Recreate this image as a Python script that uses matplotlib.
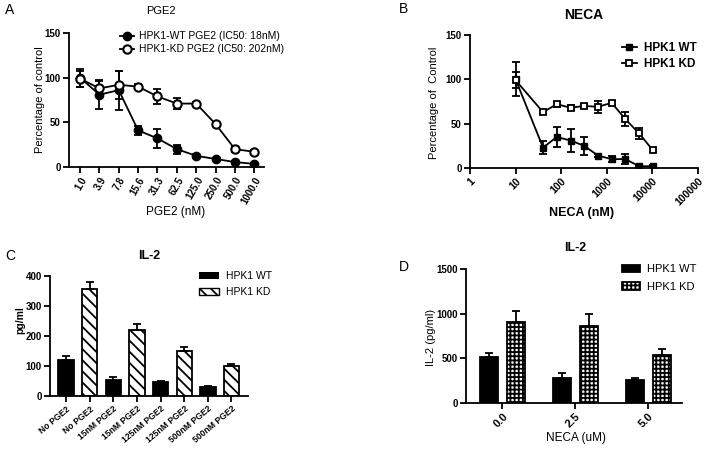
import numpy as np
import matplotlib
matplotlib.use("Agg")
import matplotlib.pyplot as plt

plt.rcParams['font.family'] = ['Liberation Sans', 'DejaVu Sans']
plt.rcParams['hatch.linewidth'] = 1.3
plt.rcParams['axes.linewidth'] = 1.3

# panel A - PGE2 dose response
pge2_labels = ["1.0", "3.9", "7.8", "15.6", "31.3", "62.5", "125.0", "250.0", "500.0", "1000.0"]
a_wt = [100, 81, 86, 41, 32, 20, 12.5, 9, 5.5, 3.5]
a_wt_err = [10, 16, 22, 5, 11, 5, 2, 1.5, 1, 1]
a_kd = [99, 88, 92, 90, 79, 71, 71, 48, 20, 17]
a_kd_err = [9, 8, 16, 3, 8, 6, 2, 2, 3, 2]

# panel B - NECA dose response
neca_nm = [10, 40, 80, 160, 320, 640, 1280, 2560, 5120, 10240]
b_wt = [100, 23, 35, 31, 25, 14, 10, 10, 2, 2]
b_wt_err = [19, 7, 11, 13, 10, 1.5, 3, 6, 1, 1]
b_kd = [99, 63, 72, 68, 70, 69, 73.5, 55, 39, 20]
b_kd_err = [9, 2, 3, 3, 2, 7, 2, 8, 6, 2]

# panel C - IL-2 with PGE2
c_labels = ["No PGE2", "No PGE2", "15nM PGE2", "15nM PGE2", "125nM PGE2",
            "125nM PGE2", "500nM PGE2", "500nM PGE2"]
c_vals = [120, 357, 55, 220, 47, 151, 30, 101]
c_err = [13, 24, 7, 20, 3, 14, 3, 5]

# panel D - IL-2 with NECA
d_labels = ["0.0", "2.5", "5.0"]
d_wt = [520, 277, 254]
d_wt_err = [37, 60, 23]
d_kd = [905, 860, 542]
d_kd_err = [124, 139, 57]

W, H = 709, 449
fig = plt.figure(figsize=(W / 100, H / 100), dpi=100)
ekw = dict(capsize=3, elinewidth=1.3, capthick=1.3, ecolor='black')


def box(l, t, r, b):
    return [l / W, 1 - b / H, (r - l) / W, (b - t) / H]


def ftext(x, y, s, **kw):
    fig.text(x / W, 1 - y / H, s, ha=kw.pop('ha', 'center'), va=kw.pop('va', 'center'), **kw)


def style(ax, xsize=7, ysize=7):
    for s in ['top', 'right']:
        ax.spines[s].set_visible(False)
    ax.tick_params(width=1.3, length=4, pad=2)
    ax.tick_params(axis='x', labelsize=xsize)
    ax.tick_params(axis='y', labelsize=ysize)
    for lab in ax.get_xticklabels() + ax.get_yticklabels():
        lab.set_fontweight('bold')


# ---- A
axA = fig.add_axes(box(69, 33, 264, 167))
xa = np.arange(len(pge2_labels))
axA.errorbar(xa, a_wt, yerr=a_wt_err, fmt='none', **ekw)
axA.errorbar(xa, a_kd, yerr=a_kd_err, fmt='none', **ekw)
axA.plot(xa, a_wt, color='black', marker='o', ms=6, lw=1.3, label='HPK1-WT PGE2 (IC50: 18nM)')
axA.plot(xa, a_kd, color='black', marker='o', ms=6, mfc='white', mew=1.5, lw=1.3,
         label='HPK1-KD PGE2 (IC50: 202nM)')
axA.set_xlim(-0.57, 9.5)
axA.set_ylim(0, 150)
axA.set_yticks([0, 50, 100, 150])
axA.set_xticks(xa)
axA.set_xticklabels(pge2_labels, rotation=60, ha='right', rotation_mode='anchor')
style(axA, xsize=7, ysize=7)
axA.legend(loc='upper left', bbox_to_anchor=(116 / W, 1 - 27 / H), bbox_transform=fig.transFigure,
           frameon=False, fontsize=7.5, handlelength=1.3, handletextpad=0.5, borderaxespad=0,
           labelspacing=0.3)

# ---- B
axB = fig.add_axes(box(470, 35, 698, 168))
axB.errorbar(neca_nm, b_wt, yerr=b_wt_err, fmt='none', **ekw)
axB.errorbar(neca_nm, b_kd, yerr=b_kd_err, fmt='none', **ekw)
axB.plot(neca_nm, b_wt, color='black', marker='s', ms=5, lw=1.3, label='HPK1 WT')
axB.plot(neca_nm, b_kd, color='black', marker='s', ms=5, mfc='white', mew=1.3, lw=1.3,
         label='HPK1 KD')
axB.set_xscale('log')
axB.set_xlim(1, 100000)
axB.set_ylim(0, 150)
axB.set_yticks([0, 50, 100, 150])
axB.set_xticks([1, 10, 100, 1000, 10000, 100000])
axB.set_xticklabels(['1', '10', '100', '1000', '10000', '100000'], rotation=45, ha='right',
                    rotation_mode='anchor')
axB.xaxis.set_minor_locator(matplotlib.ticker.NullLocator())
style(axB, xsize=7.5, ysize=7)
axB.legend(loc='upper left', bbox_to_anchor=(617 / W, 1 - 37 / H), bbox_transform=fig.transFigure,
           frameon=False, prop={'size': 8.5, 'weight': 'bold'}, handlelength=1.3,
           handletextpad=0.6, borderaxespad=0, labelspacing=0.35)

# ---- C
axC = fig.add_axes(box(50, 276, 248, 396))
xc = np.arange(len(c_labels))
for i in range(len(c_labels)):
    kd = i % 2 == 1
    axC.bar(xc[i], c_vals[i], width=0.65, color='white' if kd else 'black', edgecolor='black',
            linewidth=1.3, hatch='\\\\\\' if kd else None, yerr=[[0], [c_err[i]]], error_kw=ekw)
axC.set_xlim(-0.68, 7.7)
axC.set_ylim(0, 400)
axC.set_yticks([0, 100, 200, 300, 400])
axC.set_xticks(xc)
axC.set_xticklabels(c_labels, rotation=40, ha='right', rotation_mode='anchor')
style(axC, xsize=6.2, ysize=7)
hw = axC.bar([0], [0], color='black', label='HPK1 WT')
hk = axC.bar([0], [0], color='white', edgecolor='black', hatch='\\\\\\', label='HPK1 KD')
axC.legend(handles=[hw, hk], loc='upper left', bbox_to_anchor=(195 / W, 1 - 267 / H),
           bbox_transform=fig.transFigure, frameon=False, fontsize=7.5, handlelength=1.9,
           handleheight=0.6, handletextpad=0.7, borderaxespad=0, labelspacing=0.6)

# ---- D
axD = fig.add_axes(box(466, 269, 682, 403))
xd = np.arange(len(d_labels))
axD.bar(xd - 0.187, d_wt, width=0.25, color='black', edgecolor='black', linewidth=1.3,
        yerr=[np.zeros(3), d_wt_err], error_kw=ekw, label='HPK1 WT')
axD.bar(xd + 0.187, d_kd, width=0.25, color='white', edgecolor='black', linewidth=1.3,
        hatch='++++', yerr=[np.zeros(3), d_kd_err], error_kw=ekw, label='HPK1 KD')
axD.set_xlim(-0.5, 2.46)
axD.set_ylim(0, 1500)
axD.set_yticks([0, 500, 1000, 1500])
axD.set_xticks(xd)
axD.set_xticklabels(d_labels, rotation=45, ha='right', rotation_mode='anchor')
style(axD, xsize=8, ysize=7)
axD.legend(loc='upper left', bbox_to_anchor=(618 / W, 1 - 260 / H), bbox_transform=fig.transFigure,
           frameon=False, fontsize=8, handlelength=1.6, handleheight=0.7, handletextpad=0.6,
           borderaxespad=0, labelspacing=0.7)

# titles, panel letters and axis labels
ftext(10, 10, 'A', fontsize=10)
ftext(161, 11, 'PGE2', fontsize=8)
ftext(40, 100, 'Percentage of control', fontsize=8, rotation=90)
ftext(176, 212, 'PGE2 (nM)', fontsize=8.5)

ftext(403, 9, 'B', fontsize=10)
ftext(584, 15, 'NECA', fontsize=10, fontweight='bold')
ftext(434, 103, 'Percentage of  Control', fontsize=8, rotation=90)
ftext(582, 213, 'NECA (nM)', fontsize=9, fontweight='bold')

ftext(10, 256, 'C', fontsize=10)
ftext(149, 256, 'IL-2', fontsize=9, fontweight='bold')
ftext(20, 320, 'pg/ml', fontsize=7.5, fontweight='bold', rotation=90)

ftext(404, 267, 'D', fontsize=10)
ftext(575, 248, 'IL-2', fontsize=9, fontweight='bold')
ftext(431, 337, 'IL-2 (pg/ml)', fontsize=8, rotation=90)
ftext(576, 438, 'NECA (uM)', fontsize=8.5)

fig.savefig('out.png', dpi=100)
